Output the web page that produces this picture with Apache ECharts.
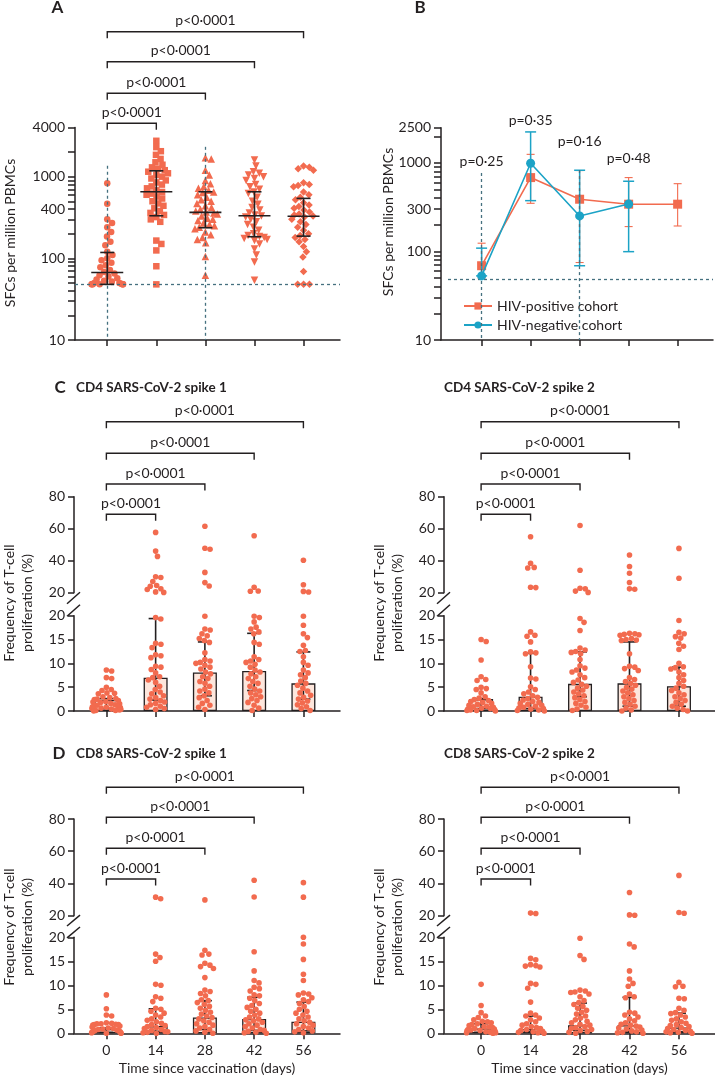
<!DOCTYPE html>
<html><head><meta charset="utf-8">
<script src="https://cdn.jsdelivr.net/npm/echarts@6/dist/echarts.min.js"></script>
<style>html,body{margin:0;padding:0;background:#fff}#c{width:715px;height:1080px}</style>
</head><body><div id="c"></div>
<script>
// ---------------- DATA ----------------
const days = [0, 14, 28, 42, 56];
const pText = 'p<0·0001';

// Panel A: SFCs per million PBMCs (log scale)
const A_d0  = [830, 465, 300, 270, 240, 210, 185, 160, 145, 120, 110, 100, 95, 88, 82, 78, 72, 68, 65, 62, 60, 57, 55, 53, 52, 50, 50, 49, 48, 48, 48, 48, 48, 48, 48];
const A_d14 = [2750, 2300, 2050, 1850, 1650, 1500, 1400, 1300, 1250, 1200, 1150, 1100, 1050, 1000, 950, 900, 850, 800, 760, 720, 680, 650, 620, 600, 570, 540, 500, 470, 440, 410, 380, 360, 340, 320, 300, 280, 165, 150, 125, 80, 48];
const A_d28 = [1700, 1650, 1200, 1050, 900, 820, 760, 720, 680, 650, 640, 600, 560, 520, 500, 470, 440, 420, 400, 380, 370, 360, 350, 330, 310, 300, 290, 270, 260, 250, 240, 230, 210, 195, 180, 170, 155, 105, 62];
const A_d42 = [1600, 1350, 1150, 1100, 1050, 1000, 950, 900, 800, 750, 700, 650, 620, 560, 500, 460, 420, 390, 360, 340, 330, 320, 300, 280, 260, 240, 220, 200, 190, 185, 180, 175, 170, 165, 150, 130, 110, 90, 54];
const A_d56 = [1350, 1300, 1250, 1200, 840, 800, 780, 750, 650, 600, 560, 520, 480, 450, 430, 410, 390, 370, 350, 340, 330, 320, 300, 280, 260, 240, 220, 200, 190, 180, 170, 160, 140, 120, 104, 69, 48, 48, 48];
const A_med = [67, 653, 365, 332, 327];
const A_q1  = [48, 332, 237, 184, 187];
const A_q3  = [118, 1180, 653, 653, 542];
const LOD = 48;
const A_labels = [10, 100, 400, 1000, 4000];
const A_ticks = [10, 20, 30, 40, 50, 60, 70, 80, 90, 100, 200, 300, 400, 500, 600, 700, 800, 900, 1000, 2000, 4000];

// Panel B: cohorts
const B_pos     = [69, 683, 389, 342, 342];
const B_posLow  = [50, 350, 75, 191, 194];
const B_posHigh = [124, 1250, 820, 683, 583];
const B_neg     = [53, 993, 252, 344];
const B_negLow  = [53, 375, 69, 99.5];
const B_negHigh = [109, 2240, 827, 621];
const B_pvals = ['p=0·25', 'p=0·35', 'p=0·16', 'p=0·48'];
const B_labels = [10, 100, 300, 1000, 2500];
const B_ticks = [10, 20, 30, 40, 50, 60, 70, 80, 90, 100, 200, 300, 400, 500, 600, 700, 800, 900, 1000, 2000, 2500];

// Panel C: CD4 spike 1 / spike 2 (% proliferation)
const C1_d0  = [8.6, 8.4, 7.0, 6.8, 5.0, 4.5, 4.3, 3.8, 3.7, 3.6, 3.0, 2.8, 2.6, 2.5, 2.4, 2.2, 2.0, 1.9, 1.8, 1.6, 1.5, 1.3, 1.2, 1.1, 1.0, 0.9, 0.8, 0.7, 0.6, 0.5, 0.4, 0.3, 0.2, 0.1, 0.1, 0.0];
const C1_d14 = [57.7, 46, 42.7, 30, 29.5, 27, 24.5, 24, 22.5, 22, 20.5, 20.2, 19.6, 19.3, 14.2, 14.0, 13.3, 11.8, 11.6, 11.2, 9.4, 9.2, 8.7, 8.0, 7.2, 7.0, 6.5, 6.0, 5.2, 4.5, 4.0, 3.6, 3.2, 2.8, 2.5, 2.2, 1.9, 1.6, 1.3, 1.0, 0.8, 0.5, 0.3];
const C1_d28 = [61.5, 47.8, 47.2, 32.7, 26.3, 24.2, 19.9, 17.2, 17.0, 16.2, 15.8, 15.2, 14.8, 14.4, 12.2, 10.8, 10.5, 10.2, 10.0, 9.6, 9.2, 8.8, 8.2, 7.8, 7.2, 6.8, 6.2, 5.8, 5.2, 4.6, 4.2, 3.8, 3.2, 2.8, 2.2, 1.6, 1.2, 0.8, 0.3];
const C1_d42 = [55.6, 23.4, 21.1, 20.9, 19.9, 19.6, 18.7, 17.6, 17.2, 16.6, 16.2, 14.4, 14.0, 11.4, 10.8, 10.5, 10.2, 9.8, 9.2, 8.6, 8.2, 7.8, 7.2, 6.8, 6.2, 5.8, 5.2, 4.6, 4.2, 3.8, 3.4, 3.0, 2.6, 2.2, 1.8, 1.2, 0.6, 0.1];
const C1_d56 = [40.3, 25, 20.8, 20.4, 19.9, 18.0, 16.2, 15.4, 13.8, 12.7, 12.5, 11.4, 10.2, 9.6, 8.6, 8.0, 7.6, 7.0, 6.3, 5.8, 5.4, 4.8, 4.2, 3.8, 3.3, 2.9, 2.5, 2.1, 1.7, 1.3, 0.9, 0.5, 0.1];
const C1_med = [2.3, 7.0, 8.1, 8.4, 5.8];
const C1_q1  = [0.5, 2.3, 3.2, 4.3, 2.5];
const C1_q3  = [2.6, 19.4, 14.5, 16.3, 12.4];

const C2_d0  = [15.0, 14.6, 10.7, 7.2, 6.6, 6.4, 5.0, 4.7, 4.5, 3.8, 3.0, 2.7, 2.4, 2.2, 2.0, 1.8, 1.6, 1.4, 1.2, 1.0, 0.9, 0.8, 0.6, 0.5, 0.4, 0.3, 0.2, 0.1, 0.1, 0.0];
const C2_d14 = [55, 38.4, 35.8, 35.4, 23.4, 23.2, 16.6, 15.9, 15.7, 14.5, 12.4, 12.2, 12.0, 9.3, 6.9, 6.7, 5.1, 4.5, 4.0, 3.6, 3.2, 2.9, 2.6, 2.3, 2.0, 1.8, 1.6, 1.4, 1.2, 1.0, 0.8, 0.6, 0.5, 0.4, 0.2, 0.1, 0.0];
const C2_d28 = [62, 34, 22.8, 22.5, 21.0, 20.2, 19.4, 18.6, 16.9, 13.2, 12.8, 12.5, 12.3, 12.0, 10.8, 9.5, 9.0, 8.6, 8.2, 7.6, 7.0, 6.5, 6.0, 5.6, 5.2, 4.8, 4.4, 4.0, 3.6, 3.2, 2.8, 2.4, 2.0, 1.6, 1.2, 0.8, 0.4, 0.1];
const C2_d42 = [43.6, 36.4, 32.2, 26.4, 22.4, 22.2, 16.3, 16.2, 16.1, 16.0, 15.9, 15.2, 15.0, 14.9, 14.8, 12.0, 9.4, 9.2, 8.9, 8.5, 7.0, 6.6, 6.2, 5.8, 5.4, 5.0, 4.6, 4.2, 3.8, 3.4, 3.0, 2.6, 2.2, 1.8, 1.4, 1.0, 0.6, 0.2, 0.0];
const C2_d56 = [47.7, 29, 19.0, 16.5, 16.2, 15.6, 15.3, 14.2, 13.6, 12.9, 10.0, 9.3, 9.1, 8.8, 8.2, 7.6, 7.0, 6.4, 5.8, 5.2, 4.8, 4.3, 3.8, 3.4, 3.0, 2.6, 2.2, 1.8, 1.4, 1.0, 0.6, 0.3, 0.0];
const C2_med = [2.5, 3.0, 5.7, 5.8, 5.2];
const C2_q1  = [0.5, 0.5, 3.0, 1.0, 1.0];
const C2_q3  = [2.6, 12.1, 12.4, 14.5, 9.2];

// Panel D: CD8 spike 1 / spike 2
const D1_d0  = [8.0, 5.1, 3.8, 3.6, 2.2, 2.1, 2.0, 2.0, 1.9, 1.8, 1.8, 1.7, 1.5, 1.3, 1.1, 1.0, 0.9, 0.8, 0.7, 0.6, 0.5, 0.4, 0.3, 0.2, 0.1, 0.1, 0.0, 0.0];
const D1_d14 = [31.5, 30.5, 16.5, 15.8, 15.0, 10.2, 10.0, 7.6, 7.3, 6.6, 5.2, 5.0, 4.6, 4.2, 3.8, 3.4, 3.0, 2.7, 2.4, 2.1, 1.8, 1.6, 1.4, 1.2, 1.0, 0.8, 0.6, 0.4, 0.3, 0.2, 0.1, 0.0];
const D1_d28 = [29.8, 17.3, 16.5, 16.3, 14.6, 14.2, 13.9, 13.5, 11.6, 9.0, 8.7, 8.3, 7.8, 7.0, 6.8, 6.4, 6.0, 5.6, 5.2, 4.8, 4.4, 4.0, 3.6, 3.3, 3.0, 2.6, 2.3, 2.0, 1.7, 1.4, 1.1, 0.8, 0.5, 0.2, 0.0];
const D1_d42 = [42, 31.6, 17.0, 13.0, 11.0, 10.5, 9.6, 9.3, 8.8, 8.0, 7.8, 7.3, 6.8, 6.2, 5.8, 5.4, 5.0, 4.6, 4.2, 3.8, 3.4, 3.0, 2.8, 2.6, 2.3, 2.0, 1.7, 1.4, 1.1, 0.8, 0.6, 0.4, 0.2, 0.1, 0.0];
const D1_d56 = [40.5, 31.5, 20.0, 18.6, 15.4, 12.3, 11.0, 8.4, 8.2, 8.0, 7.4, 7.0, 6.6, 6.2, 5.6, 5.0, 4.6, 4.2, 3.8, 3.4, 3.0, 2.6, 2.3, 2.0, 1.7, 1.4, 1.1, 0.8, 0.5, 0.3, 0.1];
const D1_med = [0.9, 1.5, 3.3, 3.0, 2.4];
const D1_q1  = [0.2, 0.4, 0.8, 0.6, 0.5];
const D1_q3  = [1.1, 5.1, 6.8, 7.5, 6.5];

const D2_d0  = [10.2, 5.8, 4.3, 3.6, 3.3, 2.8, 2.5, 2.4, 2.2, 2.0, 1.8, 1.6, 1.4, 1.3, 1.2, 1.0, 0.9, 0.8, 0.7, 0.6, 0.5, 0.4, 0.3, 0.2, 0.1, 0.1, 0.0];
const D2_d14 = [21.6, 21.4, 15.6, 15.3, 14.3, 14.1, 14.0, 13.8, 10.4, 10.2, 9.4, 6.5, 4.2, 3.8, 3.6, 3.2, 2.8, 2.4, 2.0, 1.7, 1.4, 1.2, 1.0, 0.8, 0.6, 0.4, 0.3, 0.2, 0.1, 0.0];
const D2_d28 = [19.8, 16.2, 15.4, 9.0, 8.8, 8.6, 8.5, 8.2, 7.6, 6.8, 6.4, 6.0, 5.6, 5.2, 4.8, 4.4, 4.0, 3.6, 3.2, 2.8, 2.5, 2.2, 1.9, 1.7, 1.4, 1.2, 1.0, 0.8, 0.6, 0.4, 0.2, 0.0];
const D2_d42 = [34.4, 20.5, 20.3, 18.6, 18.0, 13.0, 11.3, 10.4, 9.8, 8.2, 7.6, 7.4, 4.4, 4.2, 3.8, 3.4, 3.0, 2.6, 2.2, 1.9, 1.7, 1.5, 1.3, 1.1, 0.9, 0.7, 0.5, 0.3, 0.2, 0.1, 0.0];
const D2_d56 = [45, 22, 21.5, 10.6, 9.8, 9.7, 7.3, 7.2, 5.2, 4.8, 4.3, 4.1, 3.8, 3.4, 3.0, 2.7, 2.4, 2.1, 1.8, 1.6, 1.4, 1.2, 1.0, 0.8, 0.6, 0.4, 0.3, 0.2, 0.1, 0.0];
const D2_med = [1.0, 0.9, 1.7, 1.7, 1.2];
const D2_q1  = [0.2, 0.3, 0.6, 0.3, 0.3];
const D2_q3  = [2.0, 3.6, 6.3, 7.5, 4.2];

// ---------------- STYLE / LAYOUT ----------------
const FONT = 'Lato';
const INK = '#231f20';
const ORANGE = '#F26B4F';
const BLUE = '#1CA3C6';
const DASH = '#45707F';
const BARFILL = '#FDE6DC';
const LX = {min: -9.2, max: 66.4};
const RX = {min: -10.5, max: 66.2};
const BX = {min: -11.6, max: 66.1};
const G = [
  {left: 75, top: 127.5, width: 265, height: 212.5},   // 0 A
  {left: 441, top: 127.7, width: 272, height: 212.3},  // 1 B
  {left: 74, top: 496.7, width: 266, height: 96},      // 2 C1 upper
  {left: 74, top: 615.7, width: 266, height: 95.3},    // 3 C1 lower
  {left: 444, top: 496.7, width: 271, height: 96},     // 4 C2 upper
  {left: 444, top: 615.7, width: 271, height: 95.3},   // 5 C2 lower
  {left: 74, top: 819, width: 266, height: 96.7},      // 6 D1 upper
  {left: 74, top: 937.3, width: 266, height: 96},      // 7 D1 lower
  {left: 444, top: 819, width: 271, height: 96.7},     // 8 D2 upper
  {left: 444, top: 937.3, width: 271, height: 96}      // 9 D2 lower
];
const XR = [LX, BX, LX, LX, RX, RX, LX, LX, RX, RX];

const lineSty = {color: INK, width: 1.5};

// beeswarm layout (pixel-space collision avoidance with soft width limit), returns [x, value]
function swarm(values, center, pxPerDay, toPx, d, W) {
  const pts = values.map(v => ({v: v, y: toPx(v)})).sort((a, b) => b.v - a.v);
  const placed = [];
  pts.forEach(p => {
    const cands = [0];
    placed.forEach(q => {
      const dy = Math.abs(q.y - p.y);
      if (dy < d) { const dx = Math.sqrt(d * d - dy * dy); cands.push(q.x + dx, q.x - dx); }
    });
    cands.sort((a, b) => Math.abs(a) - Math.abs(b));
    let x = 0;
    for (const c of cands) {
      let ok = true;
      for (const q of placed) {
        const dx = c - q.x, dy = p.y - q.y;
        if (dx * dx + dy * dy < d * d - 1e-6) { ok = false; break; }
      }
      if (ok) { x = c; break; }
    }
    p.x = x; placed.push(p);
  });
  return placed.map(p => [center + (W * Math.tanh(p.x / W)) / pxPerDay, p.v]);
}
function ppd(gi) { return G[gi].width / (XR[gi].max - XR[gi].min); }

function errRender(capHalf, medHalf, color, lw) {
  return function (params, api) {
    const x = api.value(0);
    const lo = api.coord([x, api.value(1)]);
    const hi = api.coord([x, api.value(2)]);
    const st = {stroke: color, lineWidth: lw};
    const ch = [
      {type: 'line', shape: {x1: lo[0], y1: lo[1], x2: hi[0], y2: hi[1]}, style: st},
      {type: 'line', shape: {x1: lo[0] - capHalf, y1: lo[1], x2: lo[0] + capHalf, y2: lo[1]}, style: st},
      {type: 'line', shape: {x1: hi[0] - capHalf, y1: hi[1], x2: hi[0] + capHalf, y2: hi[1]}, style: st}
    ];
    if (medHalf) {
      const m = api.coord([x, api.value(3)]);
      ch.push({type: 'line', shape: {x1: m[0] - medHalf, y1: m[1], x2: m[0] + medHalf, y2: m[1]}, style: st});
    }
    return {type: 'group', children: ch};
  };
}
const plain = v => String(Math.round(v));

// ---------------- AXES ----------------
const xAxis = G.map((g, i) => {
  const hidden = (i === 2 || i === 4 || i === 6 || i === 8);
  const withLabels = (i === 7 || i === 9);
  return {
    type: 'value', gridIndex: i, min: XR[i].min, max: XR[i].max, show: !hidden,
    axisLine: {show: true, onZero: false, lineStyle: lineSty},
    axisTick: {show: true, customValues: days, length: 6, lineStyle: lineSty},
    axisLabel: {show: withLabels, customValues: days, fontSize: 14, color: INK, fontFamily: FONT, margin: 10},
    splitLine: {show: false},
    name: withLabels ? 'Time since vaccination (days)' : '',
    nameLocation: 'middle', nameGap: 28,
    nameTextStyle: {fontSize: 14, color: INK, fontFamily: FONT}
  };
});
const yAxis = [];
yAxis.push({type: 'log', logBase: 10, gridIndex: 0, min: 10, max: 4000,
  axisLine: {show: true, onZero: false, lineStyle: lineSty},
  axisTick: {show: true, customValues: A_ticks, length: 7, lineStyle: lineSty},
  axisLabel: {customValues: A_labels, formatter: plain, fontSize: 14, color: INK, fontFamily: FONT, margin: 10},
  splitLine: {show: false}, minorTick: {show: false}});
yAxis.push({type: 'log', logBase: 10, gridIndex: 1, min: 10, max: 2500,
  axisLine: {show: true, onZero: false, lineStyle: lineSty},
  axisTick: {show: true, customValues: B_ticks, length: 7, lineStyle: lineSty},
  axisLabel: {customValues: B_labels, formatter: plain, fontSize: 14, color: INK, fontFamily: FONT, margin: 10},
  splitLine: {show: false}, minorTick: {show: false}});
for (let i = 2; i < 10; i++) {
  const upper = (i % 2 === 0);
  yAxis.push({type: 'value', gridIndex: i, min: upper ? 20 : 0, max: upper ? 80 : 20, interval: upper ? 20 : 5,
    axisLine: {show: true, onZero: false, lineStyle: lineSty},
    axisTick: {show: true, length: 6, lineStyle: lineSty},
    axisLabel: {fontSize: 14, color: INK, fontFamily: FONT, margin: 9},
    splitLine: {show: false}});
}

// ---------------- SERIES ----------------
const series = [];
// Panel A
const A_groups = [A_d0, A_d14, A_d28, A_d42, A_d56];
const A_sym = ['circle', 'rect', 'triangle', 'triangle', 'diamond'];
const A_rot = [0, 0, 0, 180, 0];
const A_size = [6.5, 6.5, 7.5, 7.5, 7.5];
const aDec = G[0].height / Math.log10(4000 / 10);
A_groups.forEach((vals, k) => {
  const s = {
    type: 'scatter', xAxisIndex: 0, yAxisIndex: 0, symbol: A_sym[k], symbolRotate: A_rot[k], symbolSize: A_size[k],
    itemStyle: {color: ORANGE, opacity: 1}, clip: false, z: 3,
    data: swarm(vals, days[k], ppd(0), v => Math.log10(v) * aDec, 6.2, 16)
  };
  if (k === 0) {
    s.markLine = {silent: true, symbol: 'none', animation: false, label: {show: false},
      lineStyle: {color: DASH, type: [3, 3], width: 1.3},
      data: [
        [{coord: [LX.min, LOD]}, {coord: [LX.max, LOD]}],
        [{coord: [0, 1360]}, {coord: [0, 10]}],
        [{coord: [28, 2320]}, {coord: [28, 10]}]
      ]};
  }
  series.push(s);
});
series.push({type: 'custom', xAxisIndex: 0, yAxisIndex: 0, z: 5,
  renderItem: errRender(7, 16, INK, 1.6),
  encode: {x: 0, y: [1, 2]},
  data: days.map((d, k) => [d, A_q1[k], A_q3[k], A_med[k]])});

// Panel B
series.push({type: 'line', name: 'HIV-positive cohort', xAxisIndex: 1, yAxisIndex: 1,
  symbol: 'rect', symbolSize: 9, lineStyle: {color: ORANGE, width: 1.6}, itemStyle: {color: ORANGE}, z: 3,
  data: days.map((d, k) => [d, B_pos[k]]),
  markLine: {silent: true, symbol: 'none', animation: false, label: {show: false},
    lineStyle: {color: DASH, type: [3, 3], width: 1.3},
    data: [
      [{coord: [-9.6, LOD]}, {coord: [BX.max, LOD]}],
      [{coord: [0, 770]}, {coord: [0, 10]}],
      [{coord: [28, 830]}, {coord: [28, 10]}]
    ]}});
series.push({type: 'custom', xAxisIndex: 1, yAxisIndex: 1, z: 2,
  renderItem: errRender(4, 0, ORANGE, 1.1), encode: {x: 0, y: [1, 2]},
  data: days.map((d, k) => [d, B_posLow[k], B_posHigh[k], B_pos[k]])});
series.push({type: 'custom', xAxisIndex: 1, yAxisIndex: 1, z: 4,
  renderItem: errRender(5.5, 0, BLUE, 1.5), encode: {x: 0, y: [1, 2]},
  data: B_neg.map((v, k) => [days[k], B_negLow[k], B_negHigh[k], v])});
series.push({type: 'line', name: 'HIV-negative cohort', xAxisIndex: 1, yAxisIndex: 1,
  symbol: 'circle', symbolSize: 9, lineStyle: {color: BLUE, width: 1.6}, itemStyle: {color: BLUE}, z: 5,
  data: B_neg.map((v, k) => [days[k], v])});

// Panels C and D
const panels = [
  {up: 2, low: 3, groups: [C1_d0, C1_d14, C1_d28, C1_d42, C1_d56], med: C1_med, q1: C1_q1, q3: C1_q3},
  {up: 4, low: 5, groups: [C2_d0, C2_d14, C2_d28, C2_d42, C2_d56], med: C2_med, q1: C2_q1, q3: C2_q3},
  {up: 6, low: 7, groups: [D1_d0, D1_d14, D1_d28, D1_d42, D1_d56], med: D1_med, q1: D1_q1, q3: D1_q3},
  {up: 8, low: 9, groups: [D2_d0, D2_d14, D2_d28, D2_d42, D2_d56], med: D2_med, q1: D2_q1, q3: D2_q3}
];
panels.forEach(P => {
  const upPx = G[P.up].height / 60, lowPx = G[P.low].height / 20;
  const upData = [], lowData = [];
  P.groups.forEach((vals, k) => {
    const hi = vals.filter(v => v > 20), lo = vals.filter(v => v <= 20);
    swarm(hi, days[k], ppd(P.up), v => v * upPx, 5.6, 12).forEach(p => upData.push(p));
    swarm(lo, days[k], ppd(P.low), v => v * lowPx, 5.6, 15).forEach(p => lowData.push(p));
  });
  series.push({type: 'bar', xAxisIndex: P.low, yAxisIndex: P.low, barWidth: 24, z: 1,
    itemStyle: {color: BARFILL, borderColor: INK, borderWidth: 1.3},
    data: days.map((d, k) => [d, P.med[k]])});
  series.push({type: 'custom', xAxisIndex: P.low, yAxisIndex: P.low, z: 2,
    renderItem: errRender(7, 0, INK, 1.6), encode: {x: 0, y: [1, 2]},
    data: days.map((d, k) => [d, P.q1[k], P.q3[k], P.med[k]])});
  series.push({type: 'scatter', xAxisIndex: P.up, yAxisIndex: P.up, symbol: 'circle', symbolSize: 5.6,
    itemStyle: {color: ORANGE, opacity: 1}, clip: false, z: 3, data: upData});
  series.push({type: 'scatter', xAxisIndex: P.low, yAxisIndex: P.low, symbol: 'circle', symbolSize: 5.6,
    itemStyle: {color: ORANGE, opacity: 1}, clip: false, z: 3, data: lowData});
});

const chart = echarts.init(document.getElementById('c'), null, {renderer: 'canvas', width: 715, height: 1080});
chart.setOption({
  animation: false,
  textStyle: {fontFamily: FONT},
  grid: G.map(g => Object.assign({containLabel: false}, g)),
  xAxis: xAxis, yAxis: yAxis, series: series,
  legend: {data: ['HIV-positive cohort', 'HIV-negative cohort'], left: 458, top: 294, orient: 'vertical',
    itemWidth: 28, itemHeight: 9, itemGap: 5, textStyle: {fontSize: 14, color: INK, fontFamily: FONT}, selectedMode: false}
});

// ---------------- ANNOTATIONS ----------------
const gr = [];
function txt(x, y, s, opt) {
  gr.push(Object.assign({type: 'text', x: x, y: y, silent: true,
    style: Object.assign({text: s, fill: INK, font: '14px ' + FONT, textAlign: 'left', textVerticalAlign: 'middle'}, opt || {})}));
}
function brackets(xi, lineYs) {
  const x0 = chart.convertToPixel({xAxisIndex: xi}, 0);
  [14, 28, 42, 56].forEach((d, k) => {
    const x1 = chart.convertToPixel({xAxisIndex: xi}, d);
    const y = lineYs[k];
    gr.push({type: 'polyline', silent: true, shape: {points: [[x0, y + 6.5], [x0, y], [x1, y], [x1, y + 6.5]]},
      style: {stroke: INK, lineWidth: 1.4, fill: null}});
    txt((x0 + x1) / 2, y - 11, pText, {textAlign: 'center'});
  });
}
brackets(0, [123.3, 93.3, 61.7, 31.7]);
brackets(3, [514.3, 484, 453.3, 421.7]);
brackets(5, [514.3, 484, 453.3, 421.7]);
brackets(7, [879, 848.3, 817.3, 787.3]);
brackets(9, [879, 848.3, 817.3, 787.3]);

// p values in B
const bY = [161, 120.7, 141.7, 158.3];
B_pvals.forEach((s, k) => txt(chart.convertToPixel({xAxisIndex: 1}, days[k]), bY[k], s, {textAlign: 'center'}));

// panel letters and titles
txt(57.5, 8, 'A', {textAlign: 'center', font: 'bold 17px ' + FONT});
txt(420, 8, 'B', {textAlign: 'center', font: 'bold 17px ' + FONT});
txt(60, 388, 'C', {textAlign: 'center', font: 'bold 17px ' + FONT});
txt(59, 754, 'D', {textAlign: 'center', font: 'bold 17px ' + FONT});
txt(76, 388, 'CD4 SARS-CoV-2 spike 1', {font: 'bold 13.5px ' + FONT});
txt(444, 388, 'CD4 SARS-CoV-2 spike 2', {font: 'bold 13.5px ' + FONT});
txt(76, 754, 'CD8 SARS-CoV-2 spike 1', {font: 'bold 13.5px ' + FONT});
txt(444, 754, 'CD8 SARS-CoV-2 spike 2', {font: 'bold 13.5px ' + FONT});

// y-axis titles (rotated)
function vtxt(x, y, s) {
  gr.push({type: 'text', x: x, y: y, rotation: Math.PI / 2, silent: true,
    style: {text: s, fill: INK, font: '14px ' + FONT, textAlign: 'center', textVerticalAlign: 'middle'}});
}
vtxt(10, 233, 'SFCs per million PBMCs');
vtxt(388, 222, 'SFCs per million PBMCs');
[[0, 603], [370, 603], [0, 927], [370, 927]].forEach(([dx, cy]) => {
  vtxt(9 + dx, cy, 'Frequency of T-cell');
  vtxt(27 + dx, cy, 'proliferation (%)');
});

// axis break marks
[[74, 592.7, 615.7], [444, 592.7, 615.7], [74, 915.7, 937.3], [444, 915.7, 937.3]].forEach(([ax, yT, yB]) => {
  const mid = (yT + yB) / 2;
  gr.push({type: 'line', silent: true, shape: {x1: ax - 7, y1: mid - 0.5, x2: ax + 6, y2: yT - 0.5}, style: {stroke: INK, lineWidth: 1.5}});
  gr.push({type: 'line', silent: true, shape: {x1: ax - 7, y1: yB + 0.5, x2: ax + 6, y2: mid + 0.5}, style: {stroke: INK, lineWidth: 1.5}});
});

chart.setOption({graphic: gr});
</script>
</body></html>
